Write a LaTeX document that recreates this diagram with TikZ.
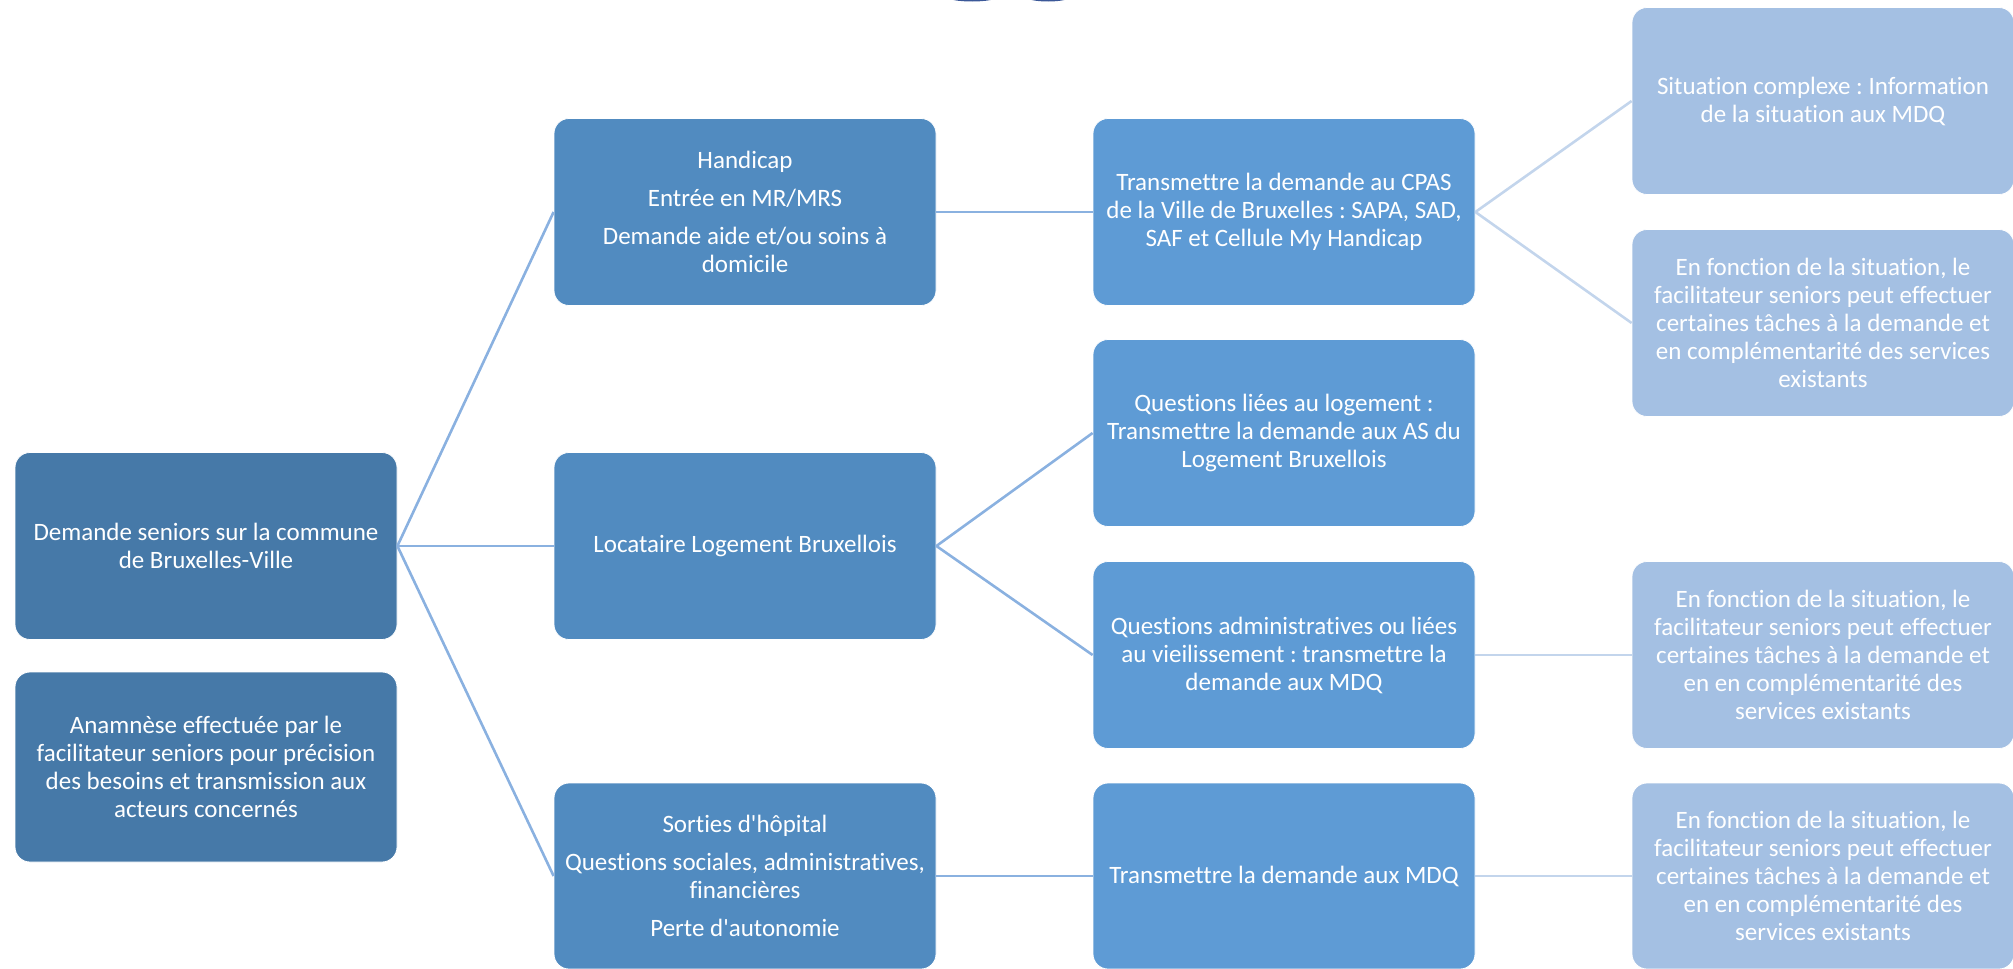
\documentclass[tikz,border=0pt]{standalone}
\usepackage{xcolor}
\usepackage{fontspec}
\newfontfamily\calibri{Carlito}[Ligatures=NoCommon]
\usepackage{tikz}
\usetikzlibrary{calc,positioning}
\frenchspacing

\definecolor{bleuFonce}{HTML}{4679A8}
\definecolor{bleuMoyen}{HTML}{518BC0}
\definecolor{bleuClair}{HTML}{5E9BD5}
\definecolor{bleuPale}{HTML}{A4C0E3}
\definecolor{trait}{HTML}{8AB1E0}
\definecolor{traitPale}{HTML}{C3D5EC}
\definecolor{logo}{HTML}{3B5898}

\tikzset{
  boite/.style={rounded corners=7.5pt, draw=white, line width=0.4pt, text=white,
    minimum width=191pt, minimum height=93.5pt, align=center, inner sep=2pt,
    font=\calibri\fontsize{12.5}{14}\selectfont},
  lien/.style={draw=trait, line width=1.3pt},
  lienPale/.style={draw=traitPale, line width=1.3pt}
}

\begin{document}
\begin{tikzpicture}[x=0.5pt,y=-0.5pt]
\useasboundingbox (0,0) rectangle (2013,969);

%Logo
\begin{scope}
\clip (0,0) rectangle (2013,969);
\fill[logo] (972,-3) ellipse (25 and 4.5);
\fill[logo] (1048,-3) ellipse (22 and 4.5);
\end{scope}

%Colonne 1
\node[boite, fill=bleuFonce] (demande) at (206,546) {Demande seniors sur la commune\\de Bruxelles-Ville};
\node[boite, fill=bleuFonce, minimum height=95pt] (anamnese) at (206,767) {Anamnèse effectuée par le\\facilitateur seniors pour précision\\des besoins et transmission aux\\acteurs concernés};

%Colonne 2
\node[boite, fill=bleuMoyen] (handicap) at (745,212) {Handicap\\[5pt]Entrée en MR/MRS\\[5pt]Demande aide et/ou soins à\\domicile};
\node[boite, fill=bleuMoyen] (locataire) at (745,546) {Locataire Logement Bruxellois};
\node[boite, fill=bleuMoyen, minimum height=93pt] (sorties) at (745,876) {Sorties d'hôpital\\[5pt]Questions sociales, administratives,\\financières\\[5pt]Perte d'autonomie};

%Colonne 3
\node[boite, fill=bleuClair] (cpas) at (1284,212) {Transmettre la demande au CPAS\\de la Ville de Bruxelles : SAPA, SAD,\\SAF et Cellule My Handicap};
\node[boite, fill=bleuClair] (logement) at (1284,433) {Questions liées au logement :\\Transmettre la demande aux AS du\\Logement Bruxellois};
\node[boite, fill=bleuClair] (admin) at (1284,655) {Questions administratives ou liées\\au vieilissement : transmettre la\\demande aux MDQ};
\node[boite, fill=bleuClair, minimum height=93pt] (mdq) at (1284,876) {Transmettre la demande aux MDQ};

%Colonne 4
\node[boite, fill=bleuPale] (complexe) at (1823,101) {Situation complexe : Information\\de la situation aux MDQ};
\node[boite, fill=bleuPale] (fonction1) at (1823,323) {En fonction de la situation, le\\facilitateur seniors peut effectuer\\certaines tâches à la demande et\\en complémentarité des services\\existants};
\node[boite, fill=bleuPale] (fonction2) at (1823,655) {En fonction de la situation, le\\facilitateur seniors peut effectuer\\certaines tâches à la demande et\\en en complémentarité des\\services existants};
\node[boite, fill=bleuPale, minimum height=93pt] (fonction3) at (1823,876) {En fonction de la situation, le\\facilitateur seniors peut effectuer\\certaines tâches à la demande et\\en en complémentarité des\\services existants};

%Liens
\draw[lien] (demande.east) -- (handicap.west);
\draw[lien] (demande.east) -- (locataire.west);
\draw[lien] (demande.east) -- (sorties.west);
\draw[lien] (handicap.east) -- (cpas.west);
\draw[lien] (locataire.east) -- (logement.west);
\draw[lien] (locataire.east) -- (admin.west);
\draw[lien] (sorties.east) -- (mdq.west);
\draw[lienPale] (cpas.east) -- (complexe.west);
\draw[lienPale] (cpas.east) -- (fonction1.west);
\draw[lienPale] (admin.east) -- (fonction2.west);
\draw[lienPale] (mdq.east) -- (fonction3.west);

\end{tikzpicture}
\end{document}
